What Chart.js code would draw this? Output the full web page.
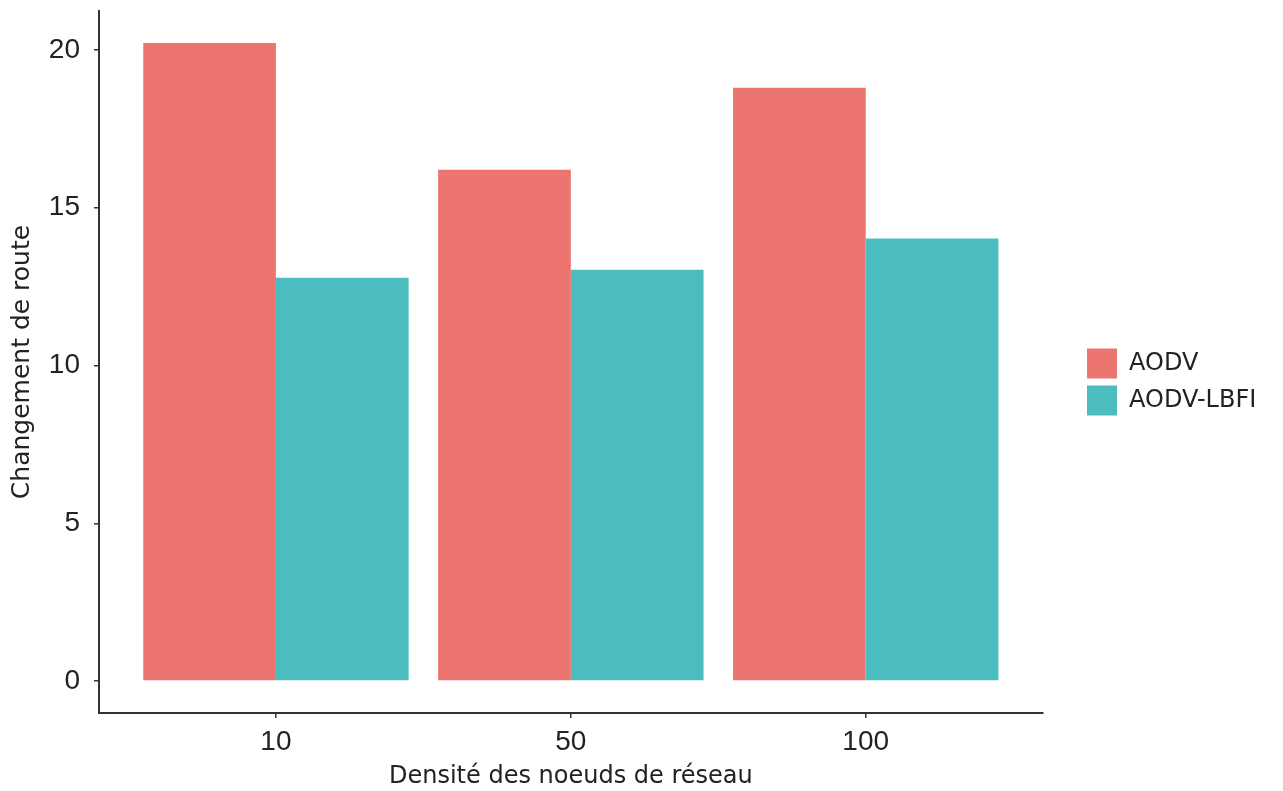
<!DOCTYPE html>
<html>
<head>
<meta charset="utf-8">
<script src="https://cdn.jsdelivr.net/npm/chart.js@4/dist/chart.umd.min.js"></script>
<style>
  html, body { margin: 0; padding: 0; background: #fff; }
  #wrap { width: 1283px; height: 791px; }
</style>
</head>
<body>
<div id="wrap"><canvas id="chart"></canvas></div>
<script>
const categories = ['10', '50', '100'];
const seriesNames = ['AODV', 'AODV-LBFI'];
const aodv = [20.22, 16.2, 18.8];
const aodvLbfi = [12.78, 13.03, 14.02];
const yTicks = [0, 5, 10, 15, 20];

const colors = ['#ec7570', '#4bbdbf'];

function toPoints(values) {
  return values.map((v, i) => ({ x: i + 1, y: v }));
}

const axisColor = '#333333';
const tickFont = "'Liberation Sans', Arial, sans-serif";
const textFont = "'DejaVu Sans', sans-serif";

// moves the legend block next to the panel, like ggplot does
const legendShift = {
  id: 'legendShift',
  afterLayout(chart) {
    const l = chart.legend;
    if (!l) return;
    const dx = 1087 - (l.left + 7);
    l.left += dx; l.right += dx;
    l.top -= 19; l.bottom -= 19;
  }
};

function noEdgePadding(scale) {
  scale.paddingTop = 0;
  scale.paddingBottom = 0;
  scale.paddingLeft = 0;
  scale.paddingRight = 0;
}

new Chart(document.getElementById('chart'), {
  type: 'bar',
  data: {
    datasets: [
      { label: seriesNames[0], data: toPoints(aodv), backgroundColor: colors[0], borderWidth: 0 },
      { label: seriesNames[1], data: toPoints(aodvLbfi), backgroundColor: colors[1], borderWidth: 0 }
    ]
  },
  plugins: [legendShift],
  options: {
    responsive: true,
    maintainAspectRatio: false,
    animation: false,
    categoryPercentage: 0.9,
    barPercentage: 1.0,
    layout: { padding: { top: 11, right: 54, bottom: 0, left: 7 } },
    scales: {
      x: {
        type: 'linear',
        offset: false,
        min: 0.4,
        max: categories.length + 0.6,
        afterBuildTicks: (scale) => {
          scale.ticks = categories.map((c, i) => ({ value: i + 1 }));
        },
        afterFit: (scale) => { scale.height = 78; noEdgePadding(scale); },
        ticks: {
          callback: (v) => categories[v - 1] ?? '',
          color: '#222',
          font: { family: tickFont, size: 28 },
          padding: 7,
          maxRotation: 0
        },
        grid: { display: true, offset: false, drawOnChartArea: false, drawTicks: true, tickLength: 5, color: axisColor, lineWidth: 1.5 },
        border: { display: true, color: axisColor, width: 2 },
        title: {
          display: true,
          text: 'Densité des noeuds de réseau',
          color: '#222',
          font: { family: textFont, size: 24 },
          padding: { top: 0, bottom: 0 }
        }
      },
      y: {
        type: 'linear',
        min: -1.01,
        max: 21.23,
        afterBuildTicks: (scale) => {
          scale.ticks = yTicks.map((v) => ({ value: v }));
        },
        afterFit: (scale) => { scale.width = 92; noEdgePadding(scale); },
        ticks: {
          color: '#222',
          font: { family: tickFont, size: 28 },
          padding: 14
        },
        grid: { display: true, drawOnChartArea: false, drawTicks: true, tickLength: 5, color: axisColor, lineWidth: 1.5 },
        border: { display: true, color: axisColor, width: 2 },
        title: {
          display: true,
          text: 'Changement de route',
          color: '#222',
          font: { family: textFont, size: 25 },
          padding: { top: 0, bottom: 0 }
        }
      }
    },
    plugins: {
      legend: {
        position: 'right',
        align: 'center',
        labels: {
          boxWidth: 30,
          boxHeight: 30,
          padding: 7,
          color: '#222',
          font: { family: textFont, size: 24 }
        }
      },
      tooltip: { enabled: false }
    }
  }
});
</script>
</body>
</html>
